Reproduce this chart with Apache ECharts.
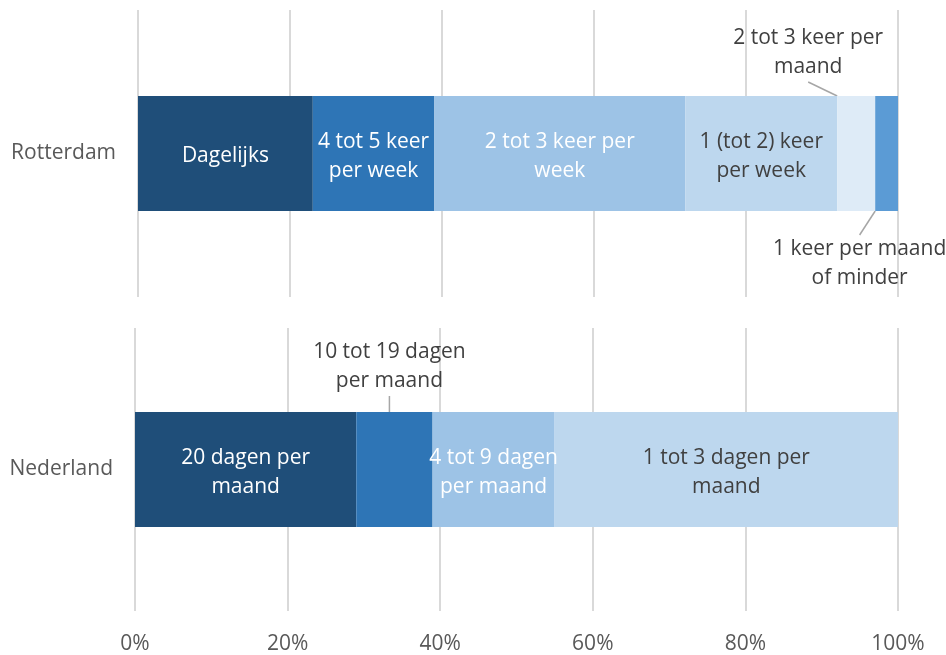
<!DOCTYPE html>
<html>
<head>
<meta charset="utf-8">
<script src="https://cdn.jsdelivr.net/npm/echarts@6/dist/echarts.min.js"></script>
<style>
  html, body { margin: 0; padding: 0; background: #fff; }
  #chart { width: 946px; height: 655px; }
</style>
</head>
<body>
<div id="chart"></div>
<script>
// data
const rotterdamCategory = ['Rotterdam'];
const rotterdamLabels = ['Dagelijks', '4 tot 5 keer\nper week', '2 tot 3 keer per\nweek', '1 (tot 2) keer\nper week', '2 tot 3 keer per\nmaand', '1 keer per maand\nof minder'];
const rotterdamValues = [23, 16, 33, 20, 5, 3];

const nederlandCategory = ['Nederland'];
const nederlandLabels = ['20 dagen per\nmaand', '10 tot 19 dagen\nper maand', '4 tot 9 dagen\nper maand', '1 tot 3 dagen per\nmaand'];
const nederlandValues = [29, 10, 16, 45];

const xTickLabels = ['0%', '20%', '40%', '60%', '80%', '100%'];

// styles
const font = '"Open Sans", sans-serif';
const darkText = '#404040';
const axisText = '#595959';
const gridColor = '#D9D9D9';
const rotterdamColors = ['#1F4E79', '#2E75B6', '#9DC3E6', '#BDD7EE', '#DEEBF7', '#5B9BD5'];
const rotterdamTextColors = ['#fff', '#fff', '#fff', darkText, darkText, darkText];
const nederlandColors = ['#1F4E79', '#2E75B6', '#9DC3E6', '#BDD7EE'];
const nederlandTextColors = ['#fff', '#fff', '#fff', darkText];

// labels that sit outside the bar, with a leader line
const rotterdamOutside = {
  4: {position: 'top', dx: -48, dy: -9},
  5: {position: 'bottom', dx: -27, dy: 19}
};
const nederlandOutside = {
  1: {position: 'top', dx: -5, dy: -11}
};

function makeSeries(labels, values, colors, textColors, outside, axisIndex, stack) {
  return values.map(function (v, i) {
    const out = outside[i];
    const s = {
      name: labels[i].replace('\n', ' '),
      type: 'bar',
      stack: stack,
      xAxisIndex: axisIndex,
      yAxisIndex: axisIndex,
      barWidth: 115,
      data: [v],
      itemStyle: {color: colors[i]},
      label: {
        show: true,
        position: out ? out.position : 'inside',
        offset: out ? [0, 0] : [0, 3],
        distance: 5,
        formatter: labels[i],
        color: out ? darkText : textColors[i],
        fontFamily: font,
        fontSize: 21,
        lineHeight: 29,
        align: 'center'
      },
      emphasis: {disabled: true}
    };
    if (out) {
      s.labelLayout = {dx: out.dx, dy: out.dy};
      s.labelLine = {show: true, lineStyle: {color: '#A6A6A6', width: 1.5}};
    }
    return s;
  });
}

const chart = echarts.init(document.getElementById('chart'));

function valueAxis(gridIndex, showLabels) {
  return {
    type: 'value',
    gridIndex: gridIndex,
    min: 0,
    max: 100,
    interval: 20,
    axisLine: {show: false},
    axisTick: {show: false},
    axisLabel: {
      show: showLabels,
      margin: 23,
      color: axisText,
      fontFamily: font,
      fontSize: 21,
      formatter: function (val) { return xTickLabels[Math.round(val / 20)]; }
    },
    splitLine: {show: true, lineStyle: {color: gridColor, width: 2}}
  };
}

function categoryAxis(gridIndex, data) {
  return {
    type: 'category',
    gridIndex: gridIndex,
    data: data,
    axisLine: {show: false},
    axisTick: {show: false},
    axisLabel: {margin: 22, color: axisText, fontFamily: font, fontSize: 21, padding: [6, 0, 0, 0]}
  };
}

const option = {
  animation: false,
  grid: [
    {left: 138, right: 48, top: 10, height: 287},
    {left: 135, right: 48, top: 328, height: 285}
  ],
  xAxis: [valueAxis(0, false), valueAxis(1, true)],
  yAxis: [categoryAxis(0, rotterdamCategory), categoryAxis(1, nederlandCategory)],
  series: makeSeries(rotterdamLabels, rotterdamValues, rotterdamColors, rotterdamTextColors, rotterdamOutside, 0, 'r')
    .concat(makeSeries(nederlandLabels, nederlandValues, nederlandColors, nederlandTextColors, nederlandOutside, 1, 'n'))
};

chart.setOption(option);
window.onresize = chart.resize;
</script>
</body>
</html>
